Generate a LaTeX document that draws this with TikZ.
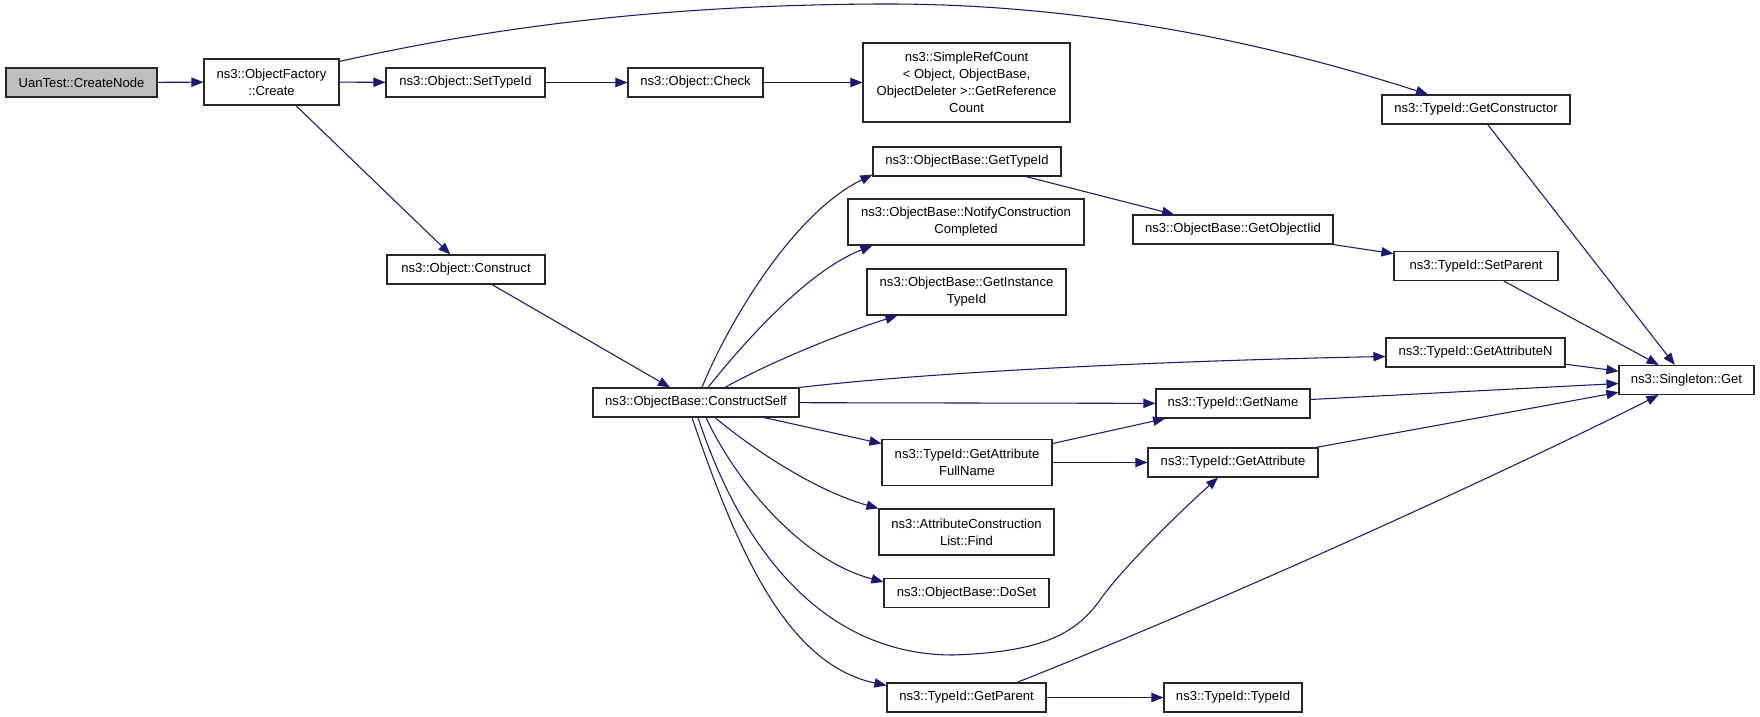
\documentclass[tikz,border=0pt]{standalone}
\usepackage{fontspec}
\setmainfont{Liberation Sans}
\usetikzlibrary{arrows.meta}
\definecolor{edgeblue}{RGB}{25,25,112}
\definecolor{nodegray}{RGB}{191,191,191}
\begin{document}
\begin{tikzpicture}[x=0.75pt,y=-0.75pt,
  box/.style={draw=black!85, line width=0.85pt, fill=white, inner sep=0pt, align=center,
    font=\fontsize{9.8}{12.6}\selectfont},
  edge/.style={draw=edgeblue, line width=0.8pt, -{Triangle[length=9pt,width=7pt]}}]
\fill[white] (0,0) rectangle (1760,717);
\useasboundingbox (0,0) rectangle (1760,717);

\node[box,fill=nodegray,minimum width=113.25pt,minimum height=21.75pt] (cn) at (81.5,82.5) {UanTest::CreateNode};
\node[box,minimum width=101.25pt,minimum height=34.5pt] (cr) at (271.5,82) {ns3::ObjectFactory\\::Create};
\node[box,minimum width=119.25pt,minimum height=21.75pt] (sti) at (465.5,82.5) {ns3::Object::SetTypeId};
\node[box,minimum width=101.25pt,minimum height=21.75pt] (chk) at (695.5,82.5) {ns3::Object::Check};
\node[box,minimum width=155.25pt,minimum height=59.25pt] (src) at (966.5,82.5) {ns3::SimpleRefCount\\< Object, ObjectBase,\\ObjectDeleter >::GetReference\\Count};
\node[box,minimum width=141pt,minimum height=21.75pt] (gc) at (1476,109.5) {ns3::TypeId::GetConstructor};
\node[box,minimum width=118.5pt,minimum height=21.75pt] (con) at (466,269.5) {ns3::Object::Construct};
\node[box,minimum width=141pt,minimum height=21.75pt] (gti) at (967,161.5) {ns3::ObjectBase::GetTypeId};
\node[box,minimum width=177pt,minimum height=34.5pt] (ncc) at (966,222) {ns3::ObjectBase::NotifyConstruction\\Completed};
\node[box,minimum width=149.25pt,minimum height=34.5pt] (git) at (966.5,292) {ns3::ObjectBase::GetInstance\\TypeId};
\node[box,minimum width=150pt,minimum height=21.75pt] (goi) at (1233,229.5) {ns3::ObjectBase::GetObjectIid};
\node[box,minimum width=123pt,minimum height=21.75pt] (sp) at (1476,266) {ns3::TypeId::SetParent};
\node[box,minimum width=134.25pt,minimum height=21.75pt] (gan) at (1475.5,352.5) {ns3::TypeId::GetAttributeN};
\node[box,minimum width=101.25pt,minimum height=21.75pt] (sg) at (1686.5,380) {ns3::Singleton::Get};
\node[box,minimum width=154.5pt,minimum height=21.75pt] (cs) at (696,402.5) {ns3::ObjectBase::ConstructSelf};
\node[box,minimum width=115.5pt,minimum height=21.75pt] (gn) at (1233,403.5) {ns3::TypeId::GetName};
\node[box,minimum width=127.5pt,minimum height=34.5pt] (gafn) at (967,462.5) {ns3::TypeId::GetAttribute\\FullName};
\node[box,minimum width=127.5pt,minimum height=21.75pt] (ga) at (1233,462.5) {ns3::TypeId::GetAttribute};
\node[box,minimum width=131.25pt,minimum height=34.5pt] (acl) at (966.5,532) {ns3::AttributeConstruction\\List::Find};
\node[box,minimum width=123.75pt,minimum height=21.75pt] (ds) at (966.5,593) {ns3::ObjectBase::DoSet};
\node[box,minimum width=119.25pt,minimum height=21.75pt] (gp) at (966.5,697.5) {ns3::TypeId::GetParent};
\node[box,minimum width=103.5pt,minimum height=21.75pt] (tid) at (1233,697.5) {ns3::TypeId::TypeId};

\draw[edge] (cn) -- (cr);
\draw[edge] (cr) -- (sti);
\draw[edge] ([yshift=-2.25pt]cr.north east) .. controls (480,30) and (650,5) .. (880,4)
  .. controls (1100,3) and (1290,50) .. ([xshift=-36pt]gc.north);
\draw[edge] (cr) -- (con);
\draw[edge] (sti) -- (chk);
\draw[edge] (chk) -- (src);
\draw[edge] (gc) -- (sg);
\draw[edge] (con) -- (cs);

\draw[edge] ([xshift=4.5pt]cs.north) .. controls (725,330) and (790,215) .. ([yshift=1.5pt]gti.south west);
\draw[edge] ([xshift=9pt]cs.north) .. controls (750,335) and (810,270) .. ([xshift=18.75pt]ncc.south west);
\draw[edge] ([xshift=21.75pt]cs.north) .. controls (770,362) and (845,332) .. ([xshift=23.25pt]git.south west);
\draw[edge] (cs.north east) .. controls (950,370) and (1200,360) .. ([yshift=-3pt]gan.west);
\draw[edge] (cs) -- (gn);
\draw[edge] (cs) -- (gafn);
\draw[edge] ([xshift=14.25pt]cs.south) .. controls (760,455) and (820,492) .. (acl.north west);
\draw[edge] ([xshift=7.5pt]cs.south) .. controls (735,480) and (800,560) .. ([yshift=-3pt]ds.north west);
\draw[edge] ([xshift=1.5pt]cs.south) .. controls (745,560) and (830,655) .. (953,655)
  .. controls (1040,652) and (1075,635) .. (1100,600)
  .. controls (1115,578) and (1160,530) .. ([xshift=-11.25pt]ga.south);
\draw[edge] ([xshift=-3pt]cs.south) .. controls (740,560) and (790,665) .. ([yshift=-2.25pt]gp.north west);

\draw[edge] (gti) -- (goi);
\draw[edge] (goi) -- (sp);
\draw[edge] (sp) -- (sg);
\draw[edge] (gan) -- (sg);
\draw[edge] (gn) -- (sg);
\draw[edge] (ga) -- (sg);
\draw[edge] (gafn) -- (gn);
\draw[edge] (gafn) -- (ga);
\draw[edge] ([xshift=37.9pt]gp.north) .. controls (1250,590) and (1530,460) .. ([xshift=-21pt]sg.south);
\draw[edge] (gp) -- (tid);
\end{tikzpicture}
\end{document}
